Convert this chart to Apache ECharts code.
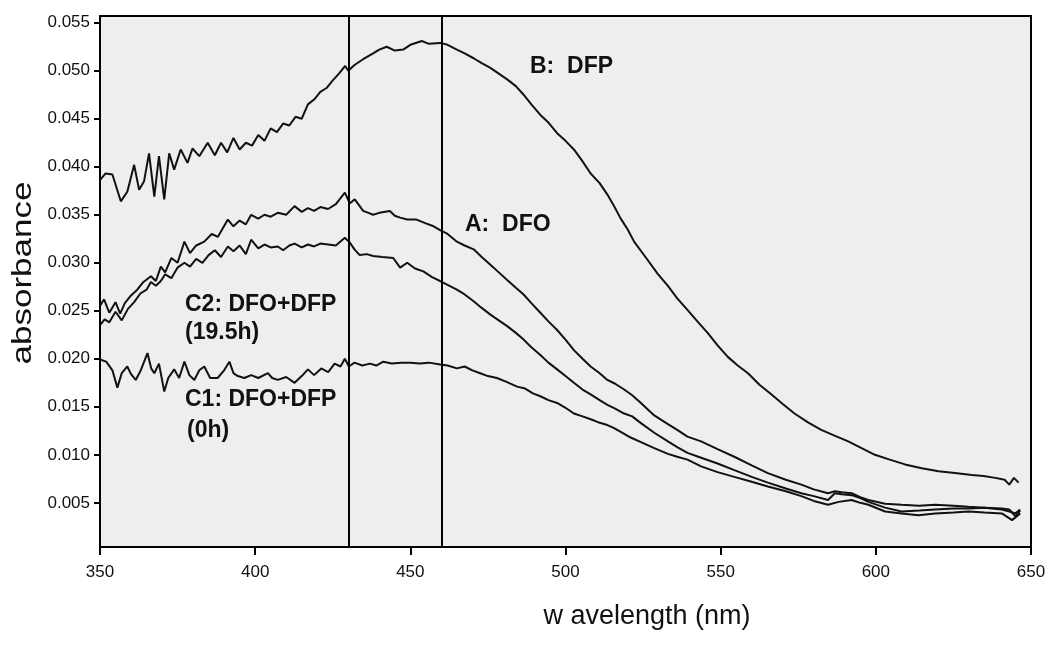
<!DOCTYPE html>
<html>
<head>
<meta charset="utf-8">
<script src="https://cdn.jsdelivr.net/npm/echarts@6/dist/echarts.min.js"></script>
<style>
html,body{margin:0;padding:0;background:#fff;}
#chart{width:1050px;height:645px;}
</style>
</head>
<body>
<div id="chart"></div>
<script>
// ---------- data ----------
const xTicks = [350, 400, 450, 500, 550, 600, 650];
const yTicks = [0.005, 0.010, 0.015, 0.020, 0.025, 0.030, 0.035, 0.040, 0.045, 0.050, 0.055];
const verticalMarkers = [430, 460];
const xTitle = 'w avelength (nm)';
const yTitle = 'absorbance';
const labelB = 'B:  DFP';
const labelA = 'A:  DFO';
const labelC2 = ['C2: DFO+DFP', '(19.5h)'];
const labelC1 = ['C1: DFO+DFP', '(0h)'];

// B: DFP
const wlB = [350,351.8,354,356.7,358.8,361,362.6,364.2,365.8,367.5,369,370.7,372.3,373.9,376,378.2,379.8,382,384.7,387,389,391,393,395,397,399,401,403,405,407,409,411,413,415,417,419,421,423,425,427,429,430,432,434.8,438,440,442.4,445,447.7,450,453.7,456,459.6,462,465,467.5,470.4,473,475.8,478.5,481.2,484,486.5,489,491.9,494.5,497.3,500,502.7,505,508.1,511,513.5,515.5,517.8,520,522.1,526,529.6,533,536,539.3,542.5,545.8,549,552.3,555.5,558.8,562.5,566.3,570,573.8,578,582.4,586.7,591.1,595.4,599.7,604.5,609.4,614.8,620.2,625.5,630.9,634.7,638.5,641.5,643,644.5,646];
const absB = [0.0386,0.0393,0.0392,0.0364,0.0374,0.0402,0.0376,0.0385,0.0414,0.0369,0.0411,0.0366,0.0414,0.0397,0.0418,0.0404,0.0419,0.0411,0.0425,0.0412,0.0425,0.0415,0.0430,0.0418,0.0425,0.0422,0.0433,0.0427,0.0440,0.0436,0.0445,0.0443,0.0452,0.0450,0.0465,0.0470,0.0478,0.0482,0.0490,0.0497,0.0505,0.0500,0.0506,0.0512,0.0518,0.0522,0.0525,0.0521,0.0522,0.0527,0.0531,0.0528,0.0529,0.0527,0.0522,0.0518,0.0513,0.0508,0.0503,0.0497,0.0491,0.0484,0.0475,0.0465,0.0454,0.0446,0.0435,0.0427,0.0418,0.0408,0.0393,0.0383,0.0371,0.0360,0.0346,0.0335,0.0322,0.0305,0.0289,0.0276,0.0263,0.0251,0.0239,0.0227,0.0214,0.0202,0.0193,0.0185,0.0173,0.0163,0.0153,0.0143,0.0134,0.0126,0.0120,0.0114,0.0107,0.0100,0.0095,0.0090,0.0086,0.0083,0.0081,0.0079,0.0078,0.0076,0.0074,0.0069,0.0076,0.0071];

// A: DFO
const wlA = [350,351.3,353,355,356.5,358,360,362,364,366.4,368,369.6,371,373,375,377.2,379,381,383.6,386,388,391.2,393,395,397,398.7,401,403,405,407.3,410,412.7,415,417,419,421,423.5,426,428.9,430.5,432.1,434.8,436.5,438,440,443.4,445,446.7,449,452,455,457.5,459.6,462,465,467.5,470.4,473,475.8,478.5,481.2,484,486.5,489,491.9,494.5,497.3,500,502.7,505.5,508.1,511,513.5,516,518.9,521.5,524.3,528.6,533,536,539.3,543.7,549,554.4,560,565.2,571,576,580,584.6,586.8,589,592.2,595,597.6,603,608.3,614,619.1,625,629.9,635,640.6,643,645,646.5];
const absA = [0.0255,0.0262,0.0248,0.0259,0.0247,0.0258,0.0266,0.0272,0.0280,0.0286,0.0281,0.0296,0.0290,0.0305,0.0300,0.0322,0.0310,0.0318,0.0322,0.0330,0.0327,0.0345,0.0338,0.0344,0.0340,0.0350,0.0346,0.0350,0.0348,0.0352,0.0350,0.0359,0.0353,0.0357,0.0354,0.0358,0.0356,0.0361,0.0373,0.0362,0.0366,0.0354,0.0352,0.0350,0.0352,0.0354,0.0349,0.0347,0.0345,0.0345,0.0341,0.0338,0.0334,0.0330,0.0322,0.0318,0.0314,0.0306,0.0298,0.0290,0.0282,0.0274,0.0267,0.0258,0.0248,0.0239,0.0230,0.0220,0.0209,0.0200,0.0192,0.0185,0.0178,0.0174,0.0168,0.0162,0.0154,0.0141,0.0132,0.0126,0.0119,0.0114,0.0106,0.0098,0.0089,0.0081,0.0074,0.0069,0.0064,0.0060,0.0062,0.0061,0.0060,0.0056,0.0053,0.0049,0.0048,0.0047,0.0048,0.0047,0.0046,0.0045,0.0043,0.0041,0.0039,0.0043];

// C2: DFO+DFP (19.5h)
const wlC2 = [350,351.5,353,355,357,359,361,363,365,366.4,368,369.6,371,373,375,377.2,379,381,383,385,387,389,391.2,393,395,397,398.7,401,403,405,407.3,409,411,412.7,415,417,419,421,423.5,426,428.9,430.5,432,433.7,436,438,441,444.5,446.7,449,451.5,454.2,457,459.6,462,465,467.5,470.4,473,475.8,478.5,481.2,484,486.5,489,491.9,494.5,497.3,500,502.7,505.5,508.1,511,513.5,516,518.9,521.5,524.3,528.6,533,536,539.3,543.7,549,554.4,560,565.2,571,576,580,584.6,586.8,589,592.2,595,597.6,603,608.3,614,619.1,625,629.9,635,640.6,643,645,646.5];
const absC2 = [0.0235,0.0241,0.0238,0.0249,0.0240,0.0252,0.0259,0.0268,0.0272,0.0280,0.0276,0.0281,0.0288,0.0284,0.0295,0.0300,0.0296,0.0304,0.0300,0.0308,0.0313,0.0306,0.0317,0.0312,0.0318,0.0309,0.0324,0.0315,0.0319,0.0316,0.0317,0.0313,0.0318,0.0320,0.0316,0.0319,0.0317,0.0320,0.0319,0.0318,0.0326,0.0321,0.0314,0.0308,0.0309,0.0307,0.0306,0.0305,0.0295,0.0300,0.0294,0.0291,0.0285,0.0281,0.0277,0.0272,0.0267,0.0260,0.0253,0.0246,0.0240,0.0234,0.0227,0.0220,0.0212,0.0204,0.0196,0.0189,0.0182,0.0175,0.0168,0.0163,0.0157,0.0152,0.0148,0.0143,0.0140,0.0133,0.0123,0.0114,0.0108,0.0102,0.0097,0.0091,0.0084,0.0077,0.0071,0.0065,0.0060,0.0057,0.0053,0.0060,0.0059,0.0058,0.0055,0.0051,0.0045,0.0041,0.0042,0.0043,0.0044,0.0044,0.0045,0.0044,0.0043,0.0036,0.0042];

// C1: DFO+DFP (0h)
const wlC1 = [350.2,352,354,355.6,357,358.8,360,361.5,363,365.3,366.5,367.5,369,370.7,372,373.9,375.5,377.2,378.8,380.4,382,383.6,385.5,387.9,390,391.7,393,394.4,396.5,398.7,401,404.1,405.5,407.3,410,412.7,415,417,419,421.3,423.5,425.6,427.5,428.9,430.2,432,434.5,437,439,441.3,444,447,450,453,456,459.6,462,465,467.5,470,472.5,475,477.9,481,484.4,487,489.5,491.9,494.5,497.3,500,502.7,505.5,508.1,510.5,513.5,515.5,517.8,521,524.5,528.6,533,536,539.3,543.7,549,554.4,560,565.2,571,576,580,584.6,588,592.2,595,597.6,603,608.3,613.7,619.1,625,629.9,635,640.6,643.9,646.5];
const absC1 = [0.0199,0.0197,0.0188,0.0170,0.0185,0.0192,0.0184,0.0178,0.0187,0.0206,0.0190,0.0185,0.0195,0.0166,0.0180,0.0189,0.0180,0.0197,0.0183,0.0178,0.0188,0.0192,0.0180,0.0180,0.0188,0.0197,0.0185,0.0182,0.0180,0.0183,0.0180,0.0185,0.0180,0.0178,0.0181,0.0175,0.0182,0.0189,0.0183,0.0190,0.0186,0.0195,0.0192,0.0200,0.0192,0.0196,0.0193,0.0195,0.0193,0.0197,0.0195,0.0196,0.0196,0.0195,0.0196,0.0194,0.0193,0.0190,0.0192,0.0188,0.0185,0.0182,0.0180,0.0176,0.0171,0.0169,0.0164,0.0161,0.0157,0.0154,0.0149,0.0143,0.0140,0.0137,0.0134,0.0131,0.0128,0.0124,0.0118,0.0113,0.0107,0.0101,0.0098,0.0095,0.0088,0.0082,0.0077,0.0072,0.0067,0.0062,0.0057,0.0052,0.0048,0.0051,0.0053,0.0050,0.0048,0.0041,0.0039,0.0037,0.0039,0.0040,0.0041,0.0040,0.0039,0.0032,0.0039];

// ---------- chart ----------
const zip = (xs, ys) => xs.map((x, i) => [x, ys[i]]);
const FONT = '"Liberation Sans", Arial, sans-serif';
const lineStyle = { color: '#111', width: 2 };

function mkSeries(name, xs, ys, extra) {
  return Object.assign({
    name: name, type: 'line', data: zip(xs, ys),
    showSymbol: false, symbol: 'none', smooth: false,
    lineStyle: lineStyle, itemStyle: { color: '#111' },
    silent: true, animation: false, z: 3
  }, extra || {});
}

const chart = echarts.init(document.getElementById('chart'), null, { renderer: 'canvas' });
chart.setOption({
  animation: false,
  backgroundColor: '#ffffff',
  grid: {
    left: 100, right: 19, top: 16, bottom: 98,
    show: true, backgroundColor: '#eeeeee', borderColor: '#000', borderWidth: 2
  },
  xAxis: {
    type: 'value', min: 350, max: 650, interval: 50,
    axisLine: { show: true, onZero: false, lineStyle: { color: '#000', width: 2 } },
    axisTick: { show: true, inside: false, length: 8, lineStyle: { color: '#000', width: 2 } },
    axisLabel: { color: '#111', fontSize: 17, fontFamily: FONT, margin: 17,
      formatter: v => String(v) },
    splitLine: { show: false }
  },
  yAxis: {
    type: 'value', min: 0.0004, max: 0.0557,
    axisLine: { show: true, onZero: false, lineStyle: { color: '#000', width: 2 } },
    axisTick: { show: true, inside: false, length: 6, customValues: yTicks,
      lineStyle: { color: '#000', width: 2 } },
    axisLabel: { color: '#111', fontSize: 17, fontFamily: FONT, margin: 10,
      customValues: yTicks, formatter: v => v.toFixed(3) },
    splitLine: { show: false }
  },
  series: [
    mkSeries('B: DFP', wlB, absB, {
      markLine: {
        silent: true, symbol: 'none', animation: false,
        label: { show: false },
        lineStyle: { color: '#000', width: 2, type: 'solid' },
        data: verticalMarkers.map(v => ({ xAxis: v }))
      }
    }),
    mkSeries('A: DFO', wlA, absA),
    mkSeries('C2: DFO+DFP (19.5h)', wlC2, absC2),
    mkSeries('C1: DFO+DFP (0h)', wlC1, absC1)
  ],
  graphic: [
    { type: 'text', x: 530, y: 67, silent: true, z: 10,
      style: { text: labelB, font: 'bold 23px ' + FONT, fill: '#111', verticalAlign: 'middle' } },
    { type: 'text', x: 465, y: 225, silent: true, z: 10,
      style: { text: labelA, font: 'bold 23px ' + FONT, fill: '#111', verticalAlign: 'middle' } },
    { type: 'text', x: 185, y: 305, silent: true, z: 10,
      style: { text: labelC2[0], font: 'bold 23px ' + FONT, fill: '#111', verticalAlign: 'middle' } },
    { type: 'text', x: 185, y: 333, silent: true, z: 10,
      style: { text: labelC2[1], font: 'bold 23px ' + FONT, fill: '#111', verticalAlign: 'middle' } },
    { type: 'text', x: 185, y: 400, silent: true, z: 10,
      style: { text: labelC1[0], font: 'bold 23px ' + FONT, fill: '#111', verticalAlign: 'middle' } },
    { type: 'text', x: 187, y: 431, silent: true, z: 10,
      style: { text: labelC1[1], font: 'bold 23px ' + FONT, fill: '#111', verticalAlign: 'middle' } },
    { type: 'text', x: 647, y: 617, silent: true, z: 10,
      style: { text: xTitle, font: '27px ' + FONT, fill: '#111', align: 'center', verticalAlign: 'middle' } },
    { type: 'text', x: 23, y: 273, rotation: Math.PI / 2, scaleX: 1.25, silent: true, z: 10,
      style: { text: yTitle, font: '28px ' + FONT, fill: '#111', align: 'center', verticalAlign: 'middle' } }
  ]
});
</script>
</body>
</html>
